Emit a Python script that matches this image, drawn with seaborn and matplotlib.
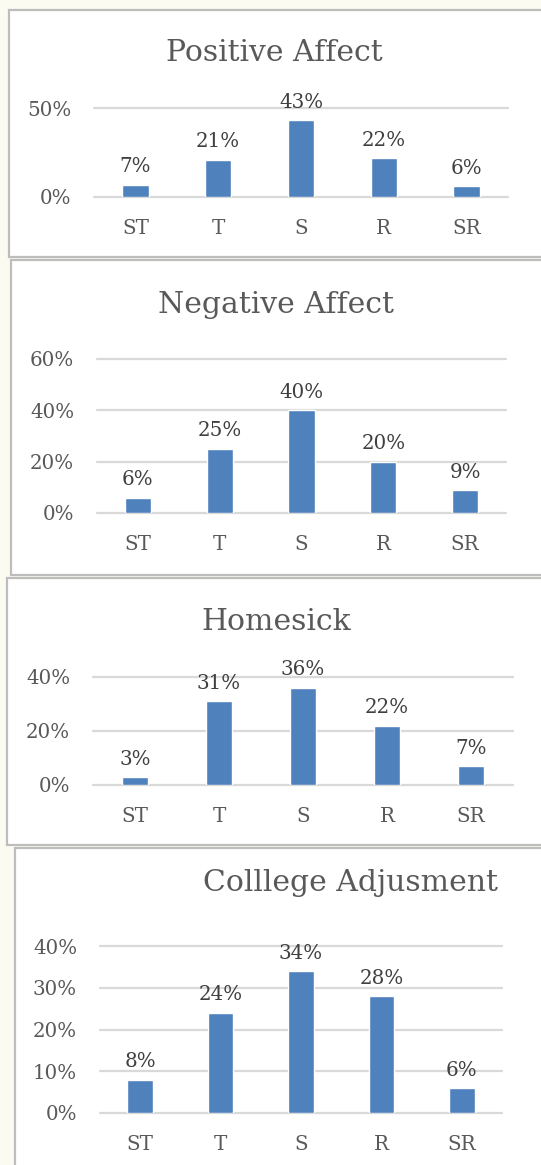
import matplotlib
matplotlib.use("Agg")
import matplotlib.pyplot as plt
import seaborn as sns
import pandas as pd
from matplotlib.patches import Rectangle

sns.set_theme(style="white")
plt.rcParams['font.family'] = ['DejaVu Serif']

categories = ["ST", "T", "S", "R", "SR"]
positive_affect = [7, 21, 43, 22, 6]
negative_affect = [6, 25, 40, 20, 9]
homesick = [3, 31, 36, 22, 7]
college_adjustment = [8, 24, 34, 28, 6]

titles = ["Positive Affect", "Negative Affect", "Homesick", "Colllege Adjusment"]
series = [positive_affect, negative_affect, homesick, college_adjustment]
y_ticks = [[0, 50], [0, 20, 40, 60], [0, 20, 40], [0, 10, 20, 30, 40]]

W, H = 541, 1165
fig = plt.figure(figsize=(W / 100, H / 100), dpi=100, facecolor="#FBFBF2")

# panel boxes (left, top, right, bottom) in pixels
panels = [(9, 10, 548, 257), (11, 260, 548, 575), (7, 578, 548, 845), (15, 848, 548, 1175)]
# axes (left, top, right, bottom) in pixels
axes_px = [(94, 108, 508, 197), (97, 359, 506, 513), (93, 677, 513, 785), (100, 946, 502, 1113)]
title_pos = [(274, 53), (276, 305), (276, 622), (350, 883)]

BLUE = "#4F81BD"
GRID = "#D9D9D9"
TXT = "#595959"

for (l, t, r, b) in panels:
    fig.patches.append(Rectangle((l / W, 1 - b / H), (r - l) / W, (b - t) / H,
                                 transform=fig.transFigure, facecolor="white",
                                 edgecolor="#BDBDBD", linewidth=1.6, zorder=-10))

for i in range(4):
    l, t, r, b = axes_px[i]
    ax = fig.add_axes([l / W, 1 - b / H, (r - l) / W, (b - t) / H], zorder=5)
    ax.set_facecolor("none")
    ax.patch.set_visible(False)
    df = pd.DataFrame({"cat": categories, "val": series[i]})
    sns.barplot(data=df, x="cat", y="val", ax=ax, color=BLUE, saturation=1,
                width=0.32, zorder=3)
    ax.set_xlim(-0.5, 4.5)
    ax.set_ylim(0, max(y_ticks[i]))
    ax.set_yticks(y_ticks[i])
    ax.set_yticklabels([f"{v}%" for v in y_ticks[i]])
    for y in y_ticks[i]:
        ax.axhline(y, color=GRID, linewidth=1.6, zorder=1, clip_on=False)
    for s in ax.spines.values():
        s.set_visible(False)
    ax.set_xlabel("")
    ax.set_ylabel("")
    ax.tick_params(axis="y", length=0, pad=16.5, labelsize=14.3, labelcolor=TXT)
    ax.tick_params(axis="x", length=0, pad=16, labelsize=14.3, labelcolor=TXT)
    ax.bar_label(ax.containers[0], labels=[f"{v}%" for v in series[i]],
                 padding=6, fontsize=14.3, color="#404040")
    tx, ty = title_pos[i]
    fig.text(tx / W, 1 - ty / H, titles[i], ha="center", va="center",
             fontsize=21.5, color=TXT, zorder=6)

fig.savefig("out.png", dpi=100, facecolor=fig.get_facecolor())
